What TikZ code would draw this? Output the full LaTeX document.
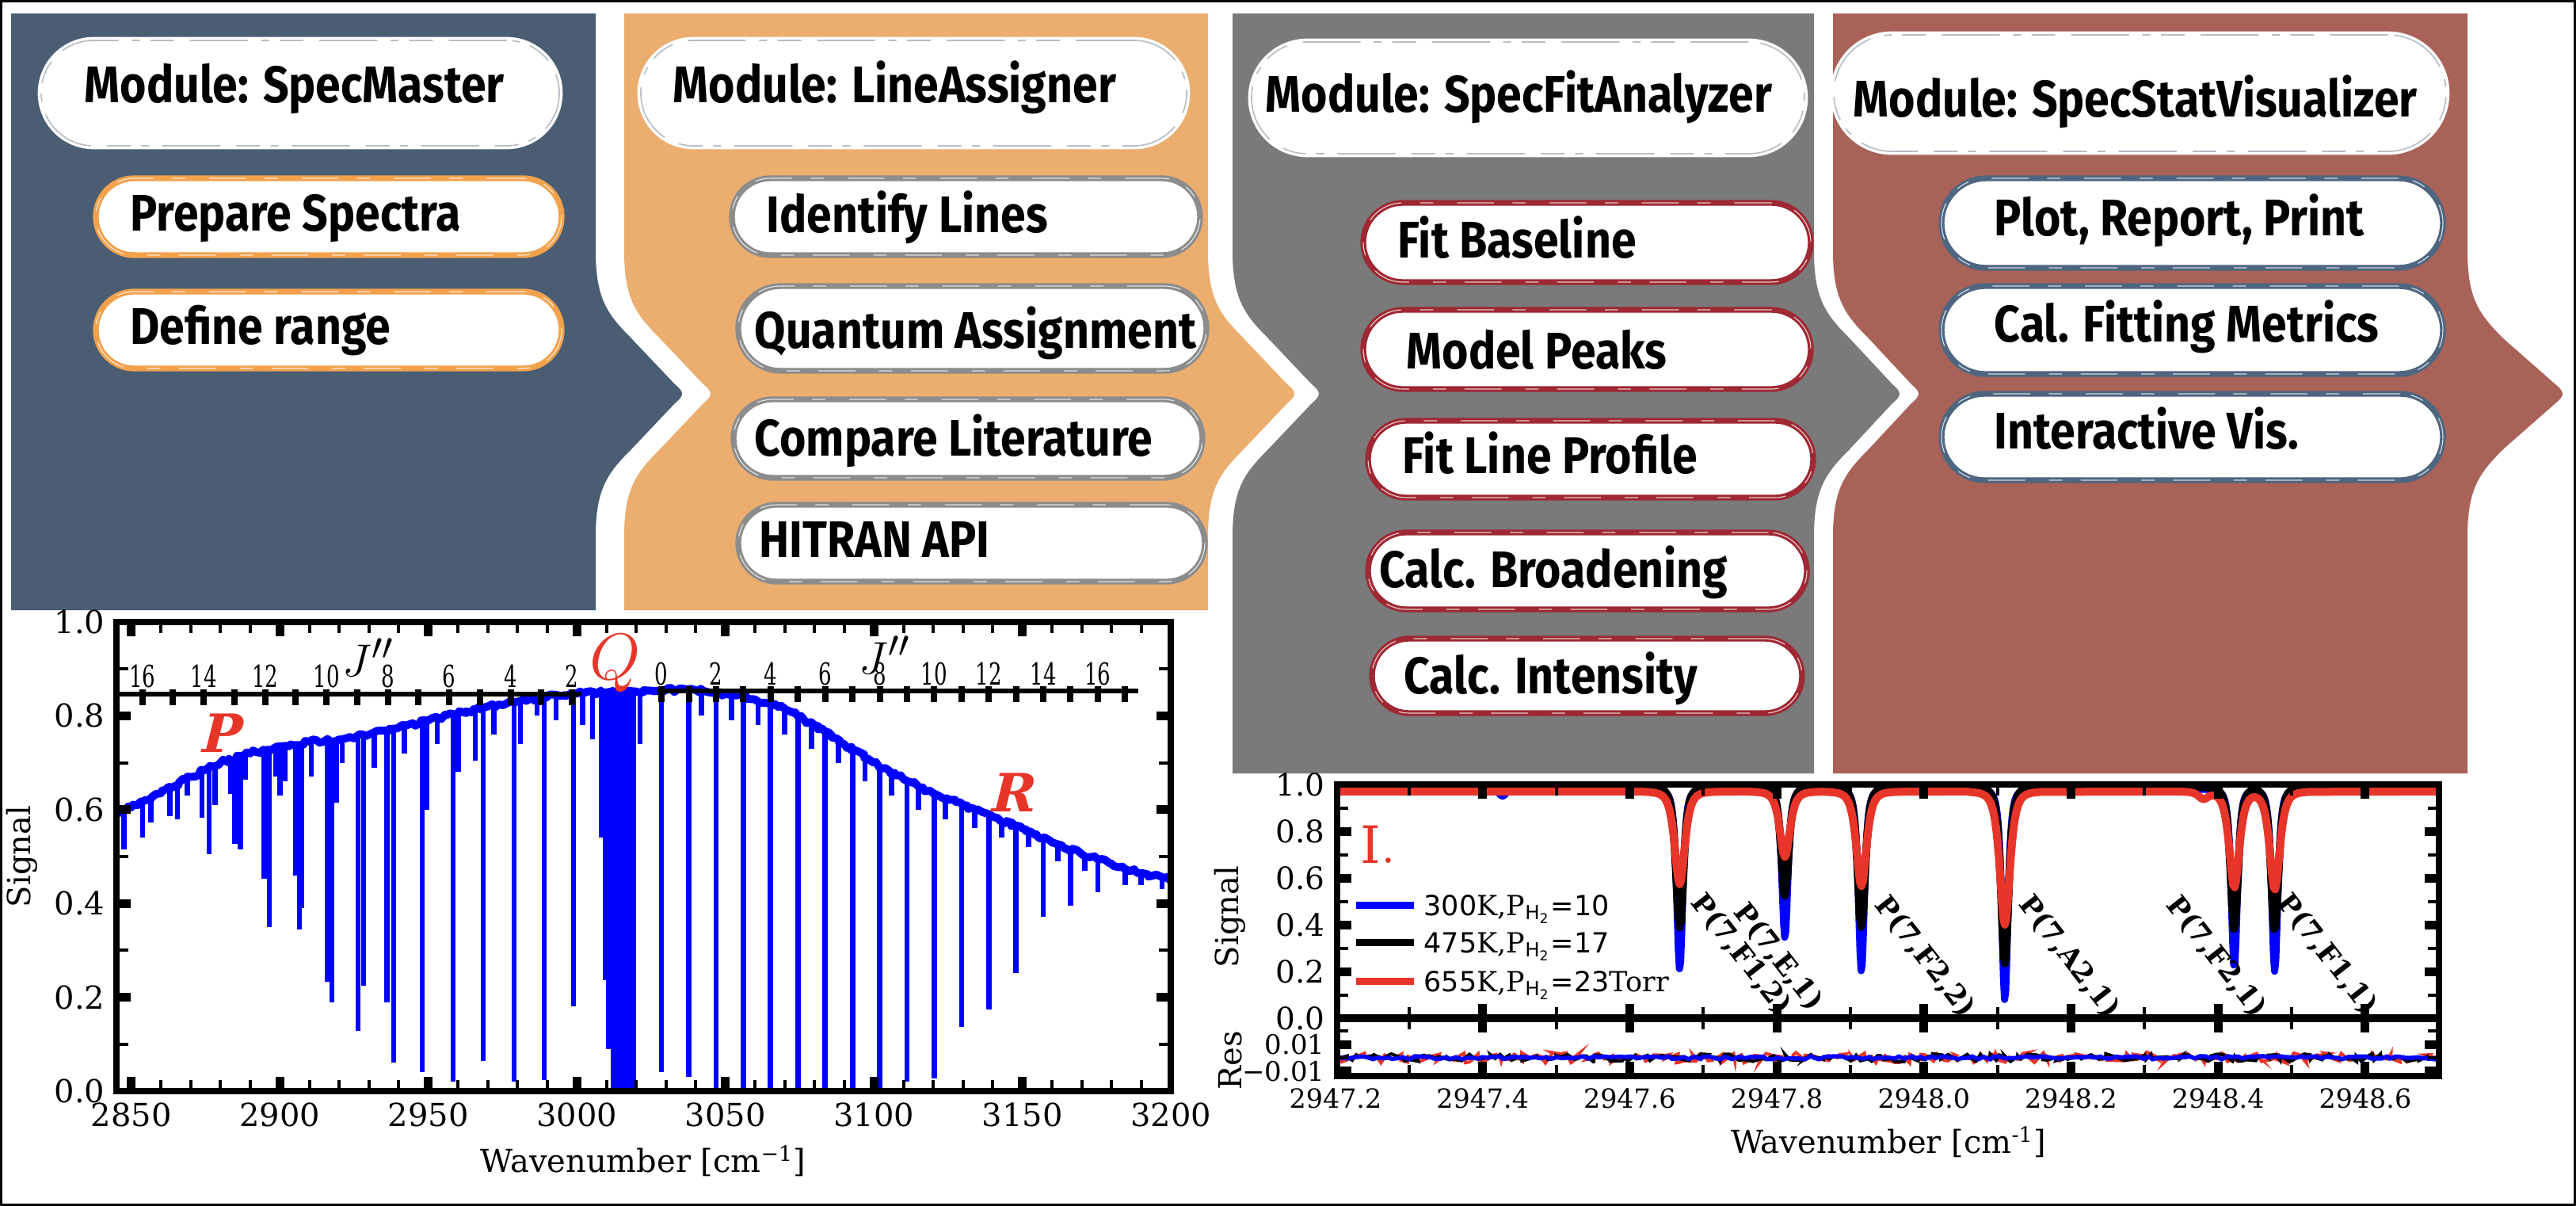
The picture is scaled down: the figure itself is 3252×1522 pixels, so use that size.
\documentclass[tikz,border=0pt]{standalone}
\usepackage{fontspec}
\setmainfont{DejaVu Serif}
\newfontfamily\dsans{DejaVu Sans}
\newfontfamily\pillfont[FakeStretch=0.88]{Fira Sans}
\newfontfamily\condserif[FakeStretch=0.68]{DejaVu Serif}
\newfontfamily\slantserif[FakeSlant=0.25]{DejaVu Serif}
\definecolor{pblue}{HTML}{4A5D73}
\definecolor{porange}{HTML}{EBAE6F}
\definecolor{pgray}{HTML}{7A7A7A}
\definecolor{pred}{HTML}{A96258}
\definecolor{borange}{HTML}{F2A24D}
\definecolor{bgray}{HTML}{8C8C8C}
\definecolor{bred}{HTML}{9E2833}
\definecolor{bslate}{HTML}{4E6680}
\definecolor{hdgray}{HTML}{B8BEC6}
\definecolor{specblue}{HTML}{0000FF}
\definecolor{qred}{HTML}{E8352A}
\usetikzlibrary{decorations.pathmorphing}
\newcommand{\bulgeR}[2]{-- (#1,317) .. controls (#1,377) and (#1+15,397) .. (#1+45,427) -- (#1+#2-11,485) .. controls (#1+#2+1,495) and (#1+#2+1,499) .. (#1+#2-11,509) -- (#1+45,567) .. controls (#1+15,597) and (#1,617) .. (#1,677)}
\newcommand{\notchL}[2]{-- (#1,677) .. controls (#1,617) and (#1+15,597) .. (#1+45,567) -- (#1+#2-11,509) .. controls (#1+#2+1,499) and (#1+#2+1,495) .. (#1+#2-11,485) -- (#1+45,427) .. controls (#1+15,397) and (#1,377) .. (#1,317)}
\tikzset{
 pill/.style={rectangle, fill=white, draw=#1, line width=2.2pt, inner sep=0pt,
   postaction={draw=white, line width=0.35pt, opacity=0.75, dash pattern=on 14pt off 9pt on 5pt off 7pt}},
 headpill/.style={rectangle, fill=white, draw=white, line width=2.6pt, inner sep=0pt,
   postaction={draw=hdgray, line width=0.5pt, dash pattern=on 22pt off 6pt on 9pt off 4pt on 3pt off 5pt}},
 ptxt/.style={font=\pillfont\bfseries\fontsize{19.5pt}{21pt}\selectfont, anchor=base west, inner sep=0pt},
 tlab/.style={font=\fontsize{12pt}{12pt}\selectfont, inner sep=0pt},
 ylab/.style={tlab, anchor=east},
 slab/.style={font=\fontsize{10pt}{10pt}\selectfont, inner sep=0pt},
 jlab/.style={font=\condserif\fontsize{11.5pt}{11.5pt}\selectfont, inner sep=0pt},
 rlab/.style={font=\bfseries\fontsize{10.5pt}{10.5pt}\selectfont, inner sep=0pt, rotate=-52},
 minortk/.style={line width=1.2pt},
 majortk/.style={line width=3.3pt},
 axframe/.style={line width=2.4pt},
}
\begin{document}
\begin{tikzpicture}[x=0.3pt, y=-0.3pt, declare function={ld(\xx,\ce,\sg)=(1/(1+min(abs((\xx-\ce)/\sg),60)^2))^2;}]
\pgfmathsetseed{7}
\useasboundingbox (0,0) rectangle (3252,1522);
\fill[white] (0,0) rectangle (3252,1522);

% ---------------- panels
\fill[pblue] (14,17) -- (752,17) \bulgeR{752}{111} -- (752,770) -- (14,770) -- cycle;
\fill[porange] (788,17) -- (1525,17) \bulgeR{1525}{111} -- (1525,770) -- (788,770) \notchL{788}{111} -- cycle;
\fill[pgray] (1556,17) -- (2290,17) \bulgeR{2290}{110} -- (2290,976) -- (1556,976) \notchL{1556}{111} -- cycle;
\fill[pred] (2314,17) -- (3115,17) \bulgeR{3115}{122} -- (3115,976) -- (2314,976) \notchL{2314}{110} -- cycle;

% ---------------- module 1
\node[headpill, minimum width=196.2pt, minimum height=39.9pt, rounded corners=19.9pt] (hdA) at (379,117.5) {};
\node[ptxt] (thdA) at (106,129) {Module: SpecMaster};
\node[pill=borange, minimum width=176.4pt, minimum height=29.1pt, rounded corners=14.5pt] (prep) at (415,273.5) {};
\node[ptxt] (tprep) at (164,291) {Prepare Spectra};
\node[pill=borange, minimum width=176.4pt, minimum height=29.1pt, rounded corners=14.5pt] (defr) at (415,416.5) {};
\node[ptxt] (tdefr) at (164,434) {Define range};

% ---------------- module 2
\node[headpill, minimum width=206.7pt, minimum height=39.9pt, rounded corners=19.9pt] (hdB) at (1153.5,117.5) {};
\node[ptxt] (thdB) at (849,129) {Module: LineAssigner};
\node[pill=bgray, minimum width=177.3pt, minimum height=29.1pt, rounded corners=14.5pt] (idl) at (1219.5,273.5) {};
\node[ptxt] (tidl) at (967,293) {Identify Lines};
\node[pill=bgray, minimum width=177.3pt, minimum height=32.1pt, rounded corners=16pt] (qa) at (1227.5,414.5) {};
\node[ptxt] (tqa) at (952,439) {Quantum Assignment};
\node[pill=bgray, minimum width=177.6pt, minimum height=29.7pt, rounded corners=14.8pt] (cl) at (1222,553.5) {};
\node[ptxt] (tcl) at (952,575) {Compare Literature};
\node[pill=bgray, minimum width=176.7pt, minimum height=29.1pt, rounded corners=14.5pt] (hit) at (1226.5,685.5) {};
\node[ptxt] (thit) at (958,703) {HITRAN API};

% ---------------- module 3
\node[headpill, minimum width=209.4pt, minimum height=42.3pt, rounded corners=21.1pt] (hdC) at (1929,123.5) {};
\node[ptxt] (thdC) at (1597,141) {Module: SpecFitAnalyzer};
\node[pill=bred, minimum width=169.5pt, minimum height=30pt, rounded corners=15pt] (fb) at (2003.5,306) {};
\node[ptxt] (tfb) at (1764,325) {Fit Baseline};
\node[pill=bred, minimum width=169.5pt, minimum height=30pt, rounded corners=15pt] (mp) at (2003.5,441) {};
\node[ptxt] (tmp) at (1775,465) {Model Peaks};
\node[pill=bred, minimum width=168.6pt, minimum height=29.1pt, rounded corners=14.5pt] (flp) at (2008,579.5) {};
\node[ptxt] (tflp) at (1770,597) {Fit Line Profile};
\node[pill=bred, minimum width=166.2pt, minimum height=29.1pt, rounded corners=14.5pt] (cb) at (2004,720.5) {};
\node[ptxt] (tcb) at (1741,741) {Calc. Broadening};
\node[pill=bred, minimum width=162.9pt, minimum height=28.2pt, rounded corners=14.1pt] (ci) at (2003.5,853) {};
\node[ptxt] (tci) at (1772,875) {Calc. Intensity};

% ---------------- module 4
\node[headpill, minimum width=231.9pt, minimum height=44.1pt, rounded corners=22pt] (hdD) at (2701.5,117.5) {};
\node[ptxt] (thdD) at (2339,147) {Module: SpecStatVisualizer};
\node[pill=bslate, minimum width=189.9pt, minimum height=33.9pt, rounded corners=16.9pt] (prp) at (2767.5,281.5) {};
\node[ptxt] (tprp) at (2517,297) {Plot, Report, Print};
\node[pill=bslate, minimum width=189.9pt, minimum height=33.3pt, rounded corners=16.6pt] (cfm) at (2767.5,416.5) {};
\node[ptxt] (tcfm) at (2517,431) {Cal. Fitting Metrics};
\node[pill=bslate, minimum width=189.9pt, minimum height=32.7pt, rounded corners=16.3pt] (iv) at (2767.5,551.5) {};
\node[ptxt] (tiv) at (2517,566) {Interactive Vis.};

% ---------------- plot 1 (broad spectrum)
\begin{scope}[shift={(147,1377)}, x=1.125pt, y=177.6pt, shift={(-2845,0)}]
 \begin{scope}
  \clip plot[smooth] coordinates {(2845,0.59) (2850,0.605) (2860,0.635) (2870,0.67) (2880,0.70) (2890,0.72) (2900,0.735) (2910,0.745) (2920,0.75) (2930,0.76) (2940,0.775) (2950,0.79) (2960,0.805) (2970,0.82) (2980,0.83) (2990,0.84) (3000,0.848) (3010,0.85) (3020,0.852) (3030,0.855) (3040,0.855) (3050,0.847) (3060,0.835) (3070,0.815) (3080,0.78) (3090,0.74) (3100,0.70) (3110,0.665) (3120,0.635) (3130,0.61) (3140,0.585) (3150,0.56) (3160,0.53) (3170,0.505) (3180,0.485) (3190,0.465) (3200,0.45)} -- (3200,-0.05) -- (2845,-0.05) -- cycle;
  \foreach \lw/\lb in {2847.6/0.516, 2853.8/0.541, 2856.6/0.573, 2863/0.586, 2865.5/0.58, 2868.9/0.63, 2873.8/0.583, 2876.2/0.505, 2878.2/0.61, 2883.6/0.634, 2884.9/0.527, 2886.7/0.515, 2888.5/0.664, 2894.7/0.453, 2896.5/0.35, 2898.6/0.67, 2900/0.63, 2901.8/0.66, 2905.3/0.46, 2906.6/0.345, 2907.4/0.39, 2910.6/0.67, 2916/0.233, 2917.5/0.19, 2919/0.615, 2921/0.70, 2926.3/0.128, 2928.2/0.225, 2931.8/0.69, 2936/0.19, 2938.3/0.06, 2942/0.72, 2947.9/0.04, 2949.5/0.60, 2953/0.74, 2958.3/0.02, 2960/0.68, 2965.8/0.705, 2968.5/0.064, 2972/0.76, 2978.9/0.02, 2981/0.74, 2986.6/0.80, 2989/0.024, 2993/0.79, 2998.9/0.18, 3002/0.78, 3005.3/0.75, 3008.2/0.54, 3009.6/0.236, 3010.8/0.09, 3021.3/0.74, 3028.5/0.04, 3037.7/0.03, 3046.9/0.0, 3056/0.0, 3065.2/0.0, 3074.4/0.0, 3083.6/0.0, 3092.8/0.0, 3101.9/0.0, 3111.1/0.02, 3120.3/0.027, 3129.5/0.137, 3138.7/0.174, 3147.8/0.252, 3157/0.372, 3166.2/0.395, 3175.4/0.424, 3184.6/0.44, 3042/0.80, 3052/0.79, 3061/0.78, 3070/0.76, 3079/0.73, 3088/0.70, 3097/0.66, 3106/0.63, 3115/0.60, 3124/0.58, 3134/0.56, 3143/0.54, 3152/0.52, 3162/0.49, 3171/0.47, 3190/0.44, 3197/0.43}
   {\draw[specblue, line width=2pt] (\lw,0.95) -- (\lw,\lb);}
  \fill[specblue] (3011.5,0) rectangle (3020,0.95);
 \end{scope}
 \draw[specblue, line width=3pt, line join=round, decorate, decoration={random steps, segment length=1.2pt, amplitude=0.8pt}] (2845,0.59) -- (2850,0.605) -- (2860,0.635) -- (2870,0.67) -- (2880,0.70) -- (2890,0.72) -- (2900,0.735) -- (2910,0.745) -- (2920,0.75) -- (2930,0.76) -- (2940,0.775) -- (2950,0.79) -- (2960,0.805) -- (2970,0.82) -- (2980,0.83) -- (2990,0.84) -- (3000,0.848) -- (3010,0.85) -- (3020,0.852) -- (3030,0.855) -- (3040,0.855) -- (3050,0.847) -- (3060,0.835) -- (3070,0.815) -- (3080,0.78) -- (3090,0.74) -- (3100,0.70) -- (3110,0.665) -- (3120,0.635) -- (3130,0.61) -- (3140,0.585) -- (3150,0.56) -- (3160,0.53) -- (3170,0.505) -- (3180,0.485) -- (3190,0.465) -- (3200,0.45);
 % J'' secondary scale
 \draw[line width=1.8pt] (2846,0.846) -- (3001.5,0.846);
 \draw[line width=1.8pt] (3027.1,0.853) -- (3189,0.853);
 \foreach \J in {2,...,16} {\draw[line width=2.4pt] ({3019-10.33*\J},0.856) -- ({3019-10.33*\J},0.822);}
 \foreach \J in {0,...,17} {\draw[line width=2.4pt] ({3028.5+9.18*\J},0.863) -- ({3028.5+9.18*\J},0.829);}
 \foreach \J in {2,4,...,16} {\node[jlab] (jp\J) at ({3019-10.33*\J},0.884) {\J};}
 \foreach \J in {0,2,...,16} {\node[jlab] (jr\J) at ({3028.5+9.18*\J},0.890) {\J};}
 % ticks and frame
 \foreach \w in {2850,2860,...,3190} {\draw[minortk] (\w,0) -- (\w,0.024); \draw[minortk] (\w,1) -- (\w,0.976);}
 \foreach \w in {2850,2900,...,3150} {\draw[majortk] (\w,0) -- (\w,0.031); \draw[majortk] (\w,1) -- (\w,0.969);}
 \foreach \v in {0.1,0.3,0.5,0.7,0.9} {\draw[minortk] (2845,\v) -- (2849,\v); \draw[minortk] (3200,\v) -- (3196,\v);}
 \foreach \v in {0.2,0.4,0.6,0.8} {\draw[majortk] (2845,\v) -- (2849.8,\v); \draw[majortk] (3200,\v) -- (3195.2,\v);}
 \draw[axframe] (2845,0) rectangle (3200,1);
\end{scope}
% plot 1 labels
\node[ylab] (a1) at (133,785) {1.0};
\node[ylab] (a2) at (133,903.4) {0.8};
\node[ylab] (a3) at (133,1021.8) {0.6};
\node[ylab] (a4) at (133,1140.2) {0.4};
\node[ylab] (a5) at (133,1258.6) {0.2};
\node[ylab] (a6) at (133,1377) {0.0};
\foreach \w/\xp in {2850/165.75, 2900/353.25, 2950/540.75, 3000/728.25, 3050/915.75, 3100/1103.25, 3150/1290.75, 3200/1478.25}
 {\node[tlab] (xa\w) at (\xp,1407) {\w};}
\node[tlab, rotate=90] (sig1) at (28,1081) {Signal};
\node[tlab] (wn1) at (812,1465) {Wavenumber [cm\textsuperscript{−1}]};
\node[font=\fontsize{19pt}{19pt}\selectfont, inner sep=0pt] (jj1) at (465,830) {$J''$};
\node[font=\fontsize{19pt}{19pt}\selectfont, inner sep=0pt] (jj2) at (1117,827) {$J''$};
\node[text=qred, font=\fontsize{27pt}{27pt}\selectfont, inner sep=0pt] (Qb) at (777,837) {$Q$};
\node[text=qred, font=\slantserif\bfseries\fontsize{20pt}{20pt}\selectfont, inner sep=0pt] (Pb) at (276,925) {P};
\node[text=qred, font=\slantserif\bfseries\fontsize{20pt}{20pt}\selectfont, inner sep=0pt] (Rb) at (1275,1000) {R};

% ---------------- plot 2 (zoomed lines)
\begin{scope}[shift={(1686,1285)}, x=278.55pt, y=88.5pt]
 \draw[specblue, line width=2.7pt, line join=round] (0.004,0.98) -- (0.2,0.98)
  -- plot[domain=0.2:0.254, samples=28] (\x,{0.98-0.03*ld(\x,0.227,0.009)})
  -- (0.418,0.98) -- plot[domain=0.418:0.518, samples=71] (\x,{0.98-0.772*ld(\x,0.468,0.0075)})
  -- (0.561,0.98) -- plot[domain=0.561:0.661, samples=71] (\x,{0.98-0.636*ld(\x,0.611,0.0075)})
  -- plot[domain=0.665:0.765, samples=71] (\x,{0.98-0.78*ld(\x,0.715,0.0075)})
  -- (0.86,0.98) -- plot[domain=0.86:0.96, samples=71] (\x,{0.98-0.904*ld(\x,0.91,0.0075)})
  -- (1.172,0.98) -- plot[domain=1.172:1.327, samples=101] (\x,{0.98-0.765*ld(\x,1.222,0.0075)-0.78*ld(\x,1.277,0.0075)})
  -- (1.498,0.98);
 \draw[black, line width=3pt, line join=round] (0.004,0.99)
  -- (0.418,0.99) -- plot[domain=0.418:0.518, samples=61] (\x,{0.99-0.602*ld(\x,0.468,0.0095)})
  -- (0.561,0.99) -- plot[domain=0.561:0.661, samples=61] (\x,{0.99-0.466*ld(\x,0.611,0.0095)})
  -- plot[domain=0.665:0.765, samples=61] (\x,{0.99-0.60*ld(\x,0.715,0.0095)})
  -- (0.86,0.99) -- plot[domain=0.86:0.96, samples=61] (\x,{0.99-0.755*ld(\x,0.91,0.0095)})
  -- (1.172,0.99) -- plot[domain=1.172:1.327, samples=91] (\x,{0.99-0.61*ld(\x,1.222,0.0095)-0.615*ld(\x,1.277,0.0095)})
  -- (1.498,0.99);
 \draw[qred, line width=3pt, line join=round] (0.004,0.97)
  -- (0.418,0.97) -- plot[domain=0.418:0.518, samples=51] (\x,{0.97-0.397*ld(\x,0.468,0.0125)})
  -- (0.561,0.97) -- plot[domain=0.561:0.661, samples=51] (\x,{0.97-0.28*ld(\x,0.611,0.0125)})
  -- plot[domain=0.665:0.765, samples=51] (\x,{0.97-0.405*ld(\x,0.715,0.0125)})
  -- (0.86,0.97) -- plot[domain=0.86:0.96, samples=51] (\x,{0.97-0.57*ld(\x,0.91,0.0125)})
  -- (1.13,0.97) -- plot[domain=1.13:1.327, samples=101] (\x,{0.97-0.03*ld(\x,1.18,0.012)-0.41*ld(\x,1.222,0.0125)-0.42*ld(\x,1.277,0.0125)})
  -- (1.498,0.97);
 % residuals
 \draw[qred, line width=1.2pt, decorate, decoration={random steps, segment length=1.6pt, amplitude=2pt}] (0.006,-0.169) -- (1.496,-0.169);
 \draw[black, line width=1.2pt, decorate, decoration={random steps, segment length=1.6pt, amplitude=1.5pt}] (0.006,-0.169) -- (1.496,-0.169);
 \draw[specblue, line width=1.6pt, decorate, decoration={random steps, segment length=2pt, amplitude=0.6pt}] (0.006,-0.169) -- (1.496,-0.169);
 % ticks
 \foreach \d in {0.1,0.3,0.5,0.7,0.9,1.1,1.3} {\draw[minortk] (\d,1) -- (\d,0.953); \draw[minortk] (\d,-0.047) -- (\d,0.047); \draw[minortk] (\d,-0.2475) -- (\d,-0.2005);}
 \foreach \d in {0.2,0.4,0.6,0.8,1.0,1.2,1.4} {\draw[majortk] (\d,1) -- (\d,0.939); \draw[majortk] (\d,-0.061) -- (\d,0.061); \draw[majortk] (\d,-0.2475) -- (\d,-0.1865);}
 \foreach \v in {0.1,0.3,0.5,0.7,0.9,-0.054,-0.169} {\draw[minortk] (0.002,\v) -- (0.0171,\v); \draw[minortk] (1.5,\v) -- (1.4849,\v);}
 \foreach \v in {0.2,0.4,0.6,0.8,-0.112,-0.227} {\draw[majortk] (0.002,\v) -- (0.0214,\v); \draw[majortk] (1.5,\v) -- (1.4806,\v);}
 \draw[axframe] (0.002,-0.2475) rectangle (1.5,1);
 \draw[line width=3pt] (0.002,0) -- (1.5,0);
\end{scope}
% plot 2 labels
\node[ylab, font=\fontsize{11.7pt}{11.7pt}\selectfont] (b1) at (1673,990) {1.0};
\node[ylab, font=\fontsize{11.7pt}{11.7pt}\selectfont] (b2) at (1673,1049) {0.8};
\node[ylab, font=\fontsize{11.7pt}{11.7pt}\selectfont] (b3) at (1673,1108) {0.6};
\node[ylab, font=\fontsize{11.7pt}{11.7pt}\selectfont] (b4) at (1673,1167) {0.4};
\node[ylab, font=\fontsize{11.7pt}{11.7pt}\selectfont] (b5) at (1673,1226) {0.2};
\node[ylab, font=\fontsize{11.7pt}{11.7pt}\selectfont] (b6) at (1673,1285) {0.0};
\node[ylab, font=\fontsize{10.2pt}{10.2pt}\selectfont] (b7) at (1673,1318) {0.01};
\node[ylab, font=\fontsize{10.2pt}{10.2pt}\selectfont] (b8) at (1673,1352) {−0.01};
\foreach \k/\lab in {0/2947.2, 1/2947.4, 2/2947.6, 3/2947.8, 4/2948.0, 5/2948.2, 6/2948.4, 7/2948.6}
 {\node[slab] (xb\k) at ({1686+185.7*\k},1386) {\lab};}
\node[tlab] (wn2) at (2384,1441) {Wavenumber [cm\textsuperscript{-1}]};
\node[tlab, rotate=90] (sig2) at (1553,1157) {Signal};
\node[tlab, rotate=90] (res2) at (1553,1338) {Res};
\node[text=qred, font=\fontsize{19.5pt}{19.5pt}\selectfont, inner sep=0pt, anchor=base west] (Ilab) at (1717,1089) {$\mathrm{I.}$};
% legend
\draw[specblue, line width=2.7pt] (1712,1142) coordinate (lg1a) -- (1785,1142) coordinate (lg1b);
\draw[black, line width=2.7pt] (1712,1189) coordinate (lg2a) -- (1785,1189) coordinate (lg2b);
\draw[qred, line width=2.7pt] (1712,1238) coordinate (lg3a) -- (1785,1238) coordinate (lg3b);
\node[font=\fontsize{10.5pt}{10.5pt}\selectfont, inner sep=0pt, anchor=base west] (lt1) at (1797,1155) {{\dsans 300}K,P\textsubscript{{\dsans H\textsubscript{2}}}{\dsans =10}};
\node[font=\fontsize{10.5pt}{10.5pt}\selectfont, inner sep=0pt, anchor=base west] (lt2) at (1797,1202) {{\dsans 475}K,P\textsubscript{{\dsans H\textsubscript{2}}}{\dsans =17}};
\node[font=\fontsize{10.5pt}{10.5pt}\selectfont, inner sep=0pt, anchor=base west] (lt3) at (1797,1251) {{\dsans 655}K,P\textsubscript{{\dsans H\textsubscript{2}}}{\dsans =23}Torr};
% rotated line assignments
\begin{scope}
 \clip (1688,990) rectangle (3079,1285);
 \node[rlab] (r1) at (2198,1205) {P(7,F1,2)};
 \node[rlab] (r2) at (2245,1208) {P(7,E,1)};
 \node[rlab] (r3) at (2430,1208) {P(7,F2,2)};
 \node[rlab] (r4) at (2612,1208) {P(7,A2,1)};
 \node[rlab] (r5) at (2798,1208) {P(7,F2,1)};
 \node[rlab] (r6) at (2938,1205) {P(7,F1,1)};
\end{scope}

% outer frame
\draw[line width=0.9pt] (1.5,1.5) rectangle (3250.5,1520.5);
\end{tikzpicture}
\end{document}
